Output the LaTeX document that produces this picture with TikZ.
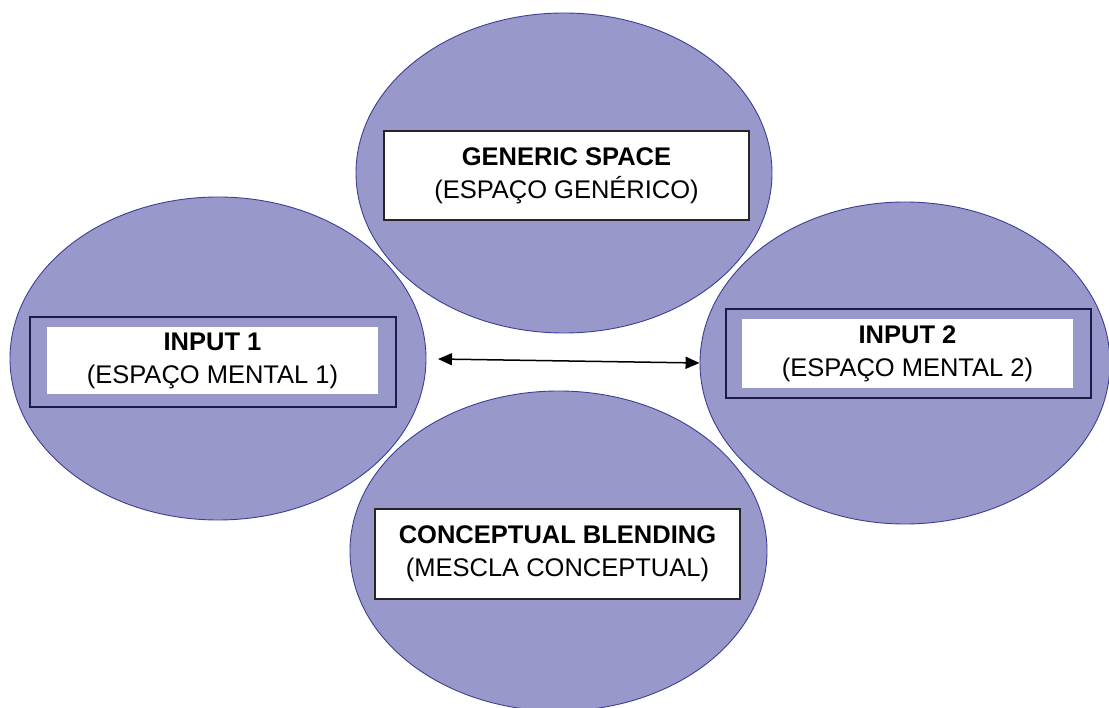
\documentclass[tikz,border=0pt]{standalone}
\usepackage{fontspec}
\setmainfont{Liberation Sans}
\usetikzlibrary{shapes.geometric,arrows.meta}
\definecolor{spacefill}{RGB}{152,152,202}
\definecolor{spaceline}{RGB}{62,62,150}
\definecolor{framenavy}{RGB}{28,28,70}
\tikzset{
  space/.style={ellipse, fill=spacefill, draw=spaceline, line width=0.9pt, inner sep=0pt},
  labelbox/.style={rectangle, fill=white, draw=black!85, line width=1.4pt, inner sep=0pt, align=center,
    font=\fontsize{25.5}{33}\selectfont},
  frameout/.style={rectangle, draw=framenavy, line width=1.3pt, inner sep=0pt},
  innerbox/.style={rectangle, fill=white, inner sep=0pt, align=center,
    font=\fontsize{25.5}{33}\selectfont},
  link/.style={line width=1.5pt, {Triangle[length=14pt,width=12pt]}-{Triangle[length=14pt,width=12pt]}}
}
\begin{document}
\begin{tikzpicture}[x=1pt,y=-1pt]
\clip (0,0) rectangle (1109,708);
\fill[white] (0,0) rectangle (1109,708);
% ellipses
\node[space, minimum width=416pt, minimum height=320pt] (gen) at (564,173) {};
\node[space, minimum width=416pt, minimum height=323pt] (in1) at (218,358.5) {};
\node[space, minimum width=410pt, minimum height=322pt] (in2) at (905,363) {};
\node[space, minimum width=417pt, minimum height=320pt] (blend) at (558.5,551) {};
% generic space
\node[labelbox, minimum width=365pt, minimum height=89pt] (genbox) at (566.5,175.5)
  {\bfseries GENERIC SPACE\\ (ESPAÇO GENÉRICO)};
% input 1
\node[frameout, minimum width=366pt, minimum height=90pt] (in1frame) at (213,362) {};
\node[innerbox, minimum width=331pt, minimum height=67pt] (in1box) at (212.5,360.5)
  {\bfseries INPUT 1\\ (ESPAÇO MENTAL 1)};
% input 2
\node[frameout, minimum width=365pt, minimum height=89pt] (in2frame) at (908.5,353.5) {};
\node[innerbox, minimum width=331pt, minimum height=69pt] (in2box) at (907.5,353.5)
  {\bfseries INPUT 2\\ (ESPAÇO MENTAL 2)};
% blending
\node[labelbox, minimum width=365pt, minimum height=90pt] (blendbox) at (557.5,554)
  {\bfseries CONCEPTUAL BLENDING\\ (MESCLA CONCEPTUAL)};
% arrow
\coordinate (aleft) at (438,359);
\draw[link] (aleft) -- (in2.west);
\end{tikzpicture}
\end{document}
